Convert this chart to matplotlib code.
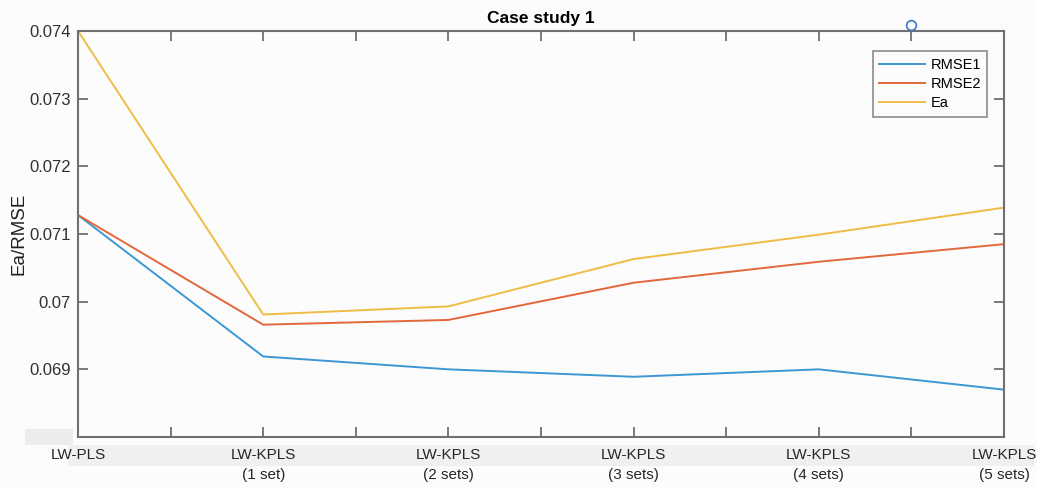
import numpy as np
import matplotlib
matplotlib.use('Agg')
import matplotlib.pyplot as plt
from matplotlib.patches import Rectangle

plt.rc('font', family=['Liberation Sans', 'DejaVu Sans'], size=11)

# data
methods = ['LW-PLS', 'LW-KPLS\n(1 set)', 'LW-KPLS\n(2 sets)', 'LW-KPLS\n(3 sets)',
           'LW-KPLS\n(4 sets)', 'LW-KPLS\n(5 sets)']
rmse1 = [0.07128, 0.06919, 0.06900, 0.06889, 0.06900, 0.06870]
rmse2 = [0.07128, 0.06966, 0.06973, 0.07028, 0.07059, 0.07085]
ea = [0.07400, 0.06981, 0.06993, 0.07063, 0.07099, 0.07139]
yticks = [0.068, 0.069, 0.070, 0.071, 0.072, 0.073, 0.074]
ytick_labels = ['', '0.069', '0.07', '0.071', '0.072', '0.073', '0.074']

c_blue, c_red, c_yel = '#3d97d3', '#e2673c', '#efbd47'
frame = '#707070'

fig = plt.figure(figsize=(10.37, 4.88), dpi=100, facecolor='#fcfcfc')
ax = fig.add_axes([78/1037, 51/488, 926/1037, 406/488])
ax.set_facecolor('#fcfcfc')

x = np.arange(len(methods))*2
ax.plot(x, rmse1, color=c_blue, lw=1.4, label='RMSE1')
ax.plot(x, rmse2, color=c_red, lw=1.4, label='RMSE2')
ax.plot(x, ea, color=c_yel, lw=1.4, label='Ea')
# stray data-tip marker above the axes
ax.plot([9], [0.07409], 'o', mfc='none', mec='#3a78c8', ms=7, mew=1.2, clip_on=False, zorder=5)

ax.set_xlim(0, 10)
ax.set_ylim(0.068, 0.074)
ax.set_xticks(np.arange(0, 11))
ax.set_xticklabels([methods[i//2] if i % 2 == 0 else '' for i in range(11)],
                   fontsize=11, color='#262626', linespacing=1.55)
ax.set_yticks(yticks)
ax.set_yticklabels(ytick_labels, fontsize=12, color='#303030')
ax.tick_params(direction='in', length=7, width=1.3, color=frame, top=True, right=True)
ax.tick_params(axis='x', pad=8)
ax.tick_params(axis='y', pad=5)
for s in ax.spines.values():
    s.set_color(frame)
    s.set_linewidth(1.5)

ax.set_title('Case study 1', fontsize=12.5, fontweight='bold', pad=6)
ax.set_ylabel('Ea/RMSE', fontsize=13.5, color='#202020')
ax.yaxis.set_label_coords(-0.054, 0.5)

leg = ax.legend(loc='upper right', bbox_to_anchor=(0.99, 0.968), fontsize=10.5,
                frameon=True, fancybox=False, handlelength=3.1, borderpad=0.45,
                labelspacing=0.35, handletextpad=0.4)
leg.get_frame().set_edgecolor(frame)
leg.get_frame().set_linewidth(1.2)
leg.get_frame().set_facecolor('#fcfcfc')

# grey screen-capture strips
fig.patches.append(Rectangle((25/1037, 43/488), 48/1037, 16/488, transform=fig.transFigure,
                             facecolor='#ececec', edgecolor='none', zorder=-1))
fig.patches.append(Rectangle((68/1037, 22/488), 966/1037, 21/488, transform=fig.transFigure,
                             facecolor='#f0f0f0', edgecolor='none', zorder=-1))

fig.savefig('out.png', dpi=100, facecolor=fig.get_facecolor())
